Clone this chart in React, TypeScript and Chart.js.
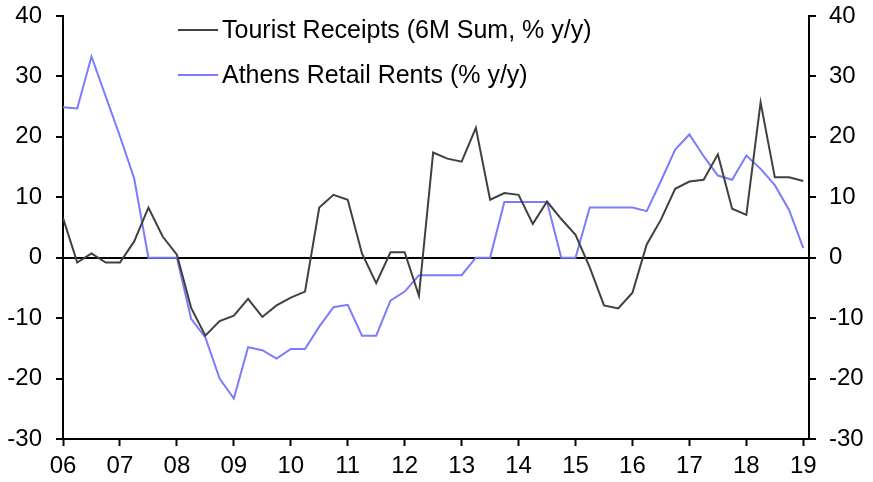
import React, { useEffect, useRef } from "react";
import { Chart, registerables } from "chart.js";

Chart.register(...registerables);

const START_YEAR = 2006;
const YEAR_TICKS = [2006, 2007, 2008, 2009, 2010, 2011, 2012, 2013, 2014, 2015, 2016, 2017, 2018, 2019];
const TICK_LABELS = ["06", "07", "08", "09", "10", "11", "12", "13", "14", "15", "16", "17", "18", "19"];
const Y_TICKS = [-30, -20, -10, 0, 10, 20, 30, 40];

const SERIES_NAMES = ["Tourist Receipts (6M Sum, % y/y)", "Athens Retail Rents (% y/y)"];

// Quarterly, 2006Q1 .. 2019Q1
const touristReceipts = [
  6.6, -0.8, 0.7, -0.8,
  -0.8, 2.7, 8.3, 3.5,
  0.5, -8.3, -12.9, -10.5,
  -9.6, -6.8, -9.8, -7.9,
  -6.6, -5.6, 8.3, 10.4,
  9.6, 0.7, -4.2, 0.9,
  0.9, -6.3, 17.4, 16.4,
  15.9, 21.5, 9.6, 10.7,
  10.4, 5.6, 9.3, 6.4,
  3.8, -1.6, -7.9, -8.4,
  -5.8, 2.2, 6.3, 11.4,
  12.6, 12.9, 17.1, 8.1,
  7.1, 25.7, 13.3, 13.3,
  12.7,
];

const athensRents = [
  24.9, 24.7, 33.3, 26.7,
  20.1, 13.1, 0, 0,
  0, -10.1, -13.2, -20.0,
  -23.3, -14.8, -15.3, -16.7,
  -15.1, -15.1, -11.4, -8.2,
  -7.8, -12.9, -12.9, -7.1,
  -5.6, -2.9, -2.9, -2.9,
  -2.9, 0, 0, 9.2,
  9.2, 9.2, 9.2, 0,
  0, 8.3, 8.3, 8.3,
  8.3, 7.7, 12.7, 17.9,
  20.4, 16.8, 13.6, 12.9,
  16.9, 14.7, 12.0, 7.9,
  1.6,
];

const COLORS = ["#404040", "#7b7bff"];
const FONT = "'Liberation Sans', Arial, sans-serif";

const toPoints = (vals: number[]) => vals.map((v, i) => ({ x: START_YEAR + i / 4, y: v }));

const legendPlugin = {
  id: "customLegend",
  afterDraw(chart: any) {
    const ctx = chart.ctx;
    const area = chart.chartArea;
    const x0 = area.left + 115;
    const rows = [area.top + 14, area.top + 59];
    ctx.save();
    SERIES_NAMES.forEach((name, i) => {
      const y = rows[i];
      ctx.strokeStyle = COLORS[i];
      ctx.lineWidth = 2;
      ctx.beginPath();
      ctx.moveTo(x0, y);
      ctx.lineTo(x0 + 40, y);
      ctx.stroke();
      ctx.fillStyle = "#000";
      ctx.font = `25px ${FONT}`;
      ctx.textBaseline = "alphabetic";
      ctx.textAlign = "left";
      ctx.fillText(name, x0 + 44, y + 7.5);
    });
    ctx.restore();
  },
};

export default function App() {
  const ref = useRef<HTMLCanvasElement | null>(null);

  useEffect(() => {
    document.body.style.margin = "0";
    const canvas = ref.current!;
    const yTickCfg = (pos: "left" | "right") => ({
      type: "linear" as const,
      position: pos,
      min: -30,
      max: 40,
      afterBuildTicks: (scale: any) => {
        scale.ticks = Y_TICKS.map((v) => ({ value: v }));
      },
      afterFit: (scale: any) => {
        scale.width = pos === "left" ? 63 : 64;
        scale.paddingTop = 0;
        scale.paddingBottom = 0;
      },
      border: { display: true, color: "#000", width: 2 },
      grid: {
        display: true,
        drawOnChartArea: pos === "left",
        drawTicks: true,
        tickLength: 7,
        tickWidth: 2,
        tickColor: "#000",
        color: (c: any) => (c.tick && c.tick.value === 0 ? "#000" : "rgba(0,0,0,0)"),
        lineWidth: (c: any) => (c.tick && c.tick.value === 0 ? 2 : 0),
      },
      ticks: {
        color: "#000",
        font: { family: FONT, size: 24 },
        padding: pos === "left" ? 14 : 13,
        callback: (v: any) => String(v),
      },
    });

    const chart = new Chart(canvas, {
      type: "line",
      data: {
        datasets: [
          {
            label: SERIES_NAMES[0],
            data: toPoints(touristReceipts),
            borderColor: COLORS[0],
            borderWidth: 2,
            pointRadius: 0,
            tension: 0,
            yAxisID: "y",
          },
          {
            label: SERIES_NAMES[1],
            data: toPoints(athensRents),
            borderColor: COLORS[1],
            borderWidth: 2,
            pointRadius: 0,
            tension: 0,
            yAxisID: "y",
          },
        ],
      },
      options: {
        animation: false,
        responsive: false,
        maintainAspectRatio: false,
        layout: { padding: { top: 16, left: 0, right: 0, bottom: 0 } },
        plugins: { legend: { display: false }, tooltip: { enabled: false } },
        scales: {
          x: {
            type: "linear",
            min: 2006,
            max: 2019.1,
            afterBuildTicks: (scale: any) => {
              scale.ticks = YEAR_TICKS.map((v) => ({ value: v }));
            },
            afterFit: (scale: any) => {
              scale.height = 43;
              scale.paddingLeft = 0;
              scale.paddingRight = 0;
            },
            border: { display: true, color: "#000", width: 2 },
            grid: {
              display: true,
              drawOnChartArea: false,
              drawTicks: true,
              tickLength: 7,
              tickWidth: 2,
              tickColor: "#000",
            },
            ticks: {
              color: "#000",
              font: { family: FONT, size: 24 },
              padding: 6,
              maxRotation: 0,
              autoSkip: false,
              callback: (v: any) => {
                const idx = YEAR_TICKS.indexOf(Math.round(Number(v)));
                return idx >= 0 ? TICK_LABELS[idx] : "";
              },
            },
          },
          y: yTickCfg("left"),
          y2: yTickCfg("right"),
        },
      },
      plugins: [legendPlugin],
    });
    return () => chart.destroy();
  }, []);

  return <canvas ref={ref} width={873} height={482} style={{ display: "block", width: 873, height: 482 }} />;
}
